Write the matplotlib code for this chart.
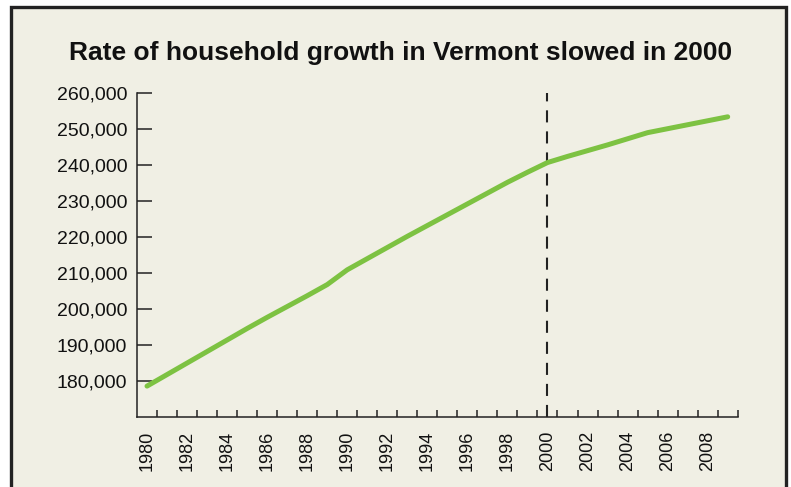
import numpy as np
import matplotlib.pyplot as plt
import matplotlib.ticker as ticker
from matplotlib.patches import Rectangle

# Data
years = list(range(1980, 2010))
households = [178500, 181700, 184900, 188100, 191300, 194500, 197600, 200600,
              203600, 206700, 210800, 213900, 217000, 220100, 223100, 226100,
              229100, 232100, 235100, 237900, 240600, 242300, 243900, 245500,
              247200, 248900, 250000, 251100, 252200, 253300]
y_ticks = [180000, 190000, 200000, 210000, 220000, 230000, 240000, 250000, 260000]
x_label_years = list(range(1980, 2010, 2))
marker_year = 2000
title = "Rate of household growth in Vermont slowed in 2000"

plt.rcParams['font.family'] = ['Liberation Sans', 'DejaVu Sans']

W, H = 791, 487
fig = plt.figure(figsize=(W / 100, H / 100), dpi=100)
fig.patch.set_facecolor('white')

# Framed cream panel
frame = Rectangle((10.5 / W, -0.05), (785.5 - 10.5) / W, 1.05 - 6.5 / H,
                  transform=fig.transFigure, facecolor='#f0efe4',
                  edgecolor='#222222', linewidth=2.4, zorder=-10)
fig.patches.append(frame)

ax = fig.add_axes([137 / W, 1 - 416.7 / H, 600.7 / W, (416.7 - 92.7) / H])
ax.set_facecolor('none')
ax.set_zorder(5)

ax.plot(years, households, color='#7dc242', linewidth=3.6,
        solid_capstyle='round', solid_joinstyle='round', zorder=3)
ax.axvline(marker_year, color='#222222', linewidth=1.5,
           linestyle=(0, (5.8, 4.3)), zorder=2)

ax.set_xlim(1979.5, 2009.5)
ax.set_ylim(170000, 260000)

ax.set_yticks(y_ticks)
ax.yaxis.set_major_formatter(ticker.FuncFormatter(lambda v, p: f"{int(v):,}"))
ax.tick_params(axis='y', direction='in', length=11, width=1.1, color='#222222',
               labelsize=14, pad=7, labelcolor='#111111')

ax.set_xticks(x_label_years)
ax.set_xticklabels([str(y) for y in x_label_years], rotation=90)
ax.xaxis.set_minor_locator(ticker.FixedLocator(np.arange(1980.5, 2010, 1.0)))
ax.tick_params(axis='x', which='major', length=0, labelsize=13, pad=10,
               labelcolor='#111111')
ax.tick_params(axis='x', which='minor', direction='in', length=5, width=1.1,
               color='#222222')

for side in ['top', 'right']:
    ax.spines[side].set_visible(False)
for side in ['left', 'bottom']:
    ax.spines[side].set_color('#222222')
    ax.spines[side].set_linewidth(1.1)

fig.text(401 / W, 1 - 53 / H, title, ha='center', va='center',
         fontsize=19, fontweight='bold', color='#111111')

fig.savefig('out.png', dpi=100)
